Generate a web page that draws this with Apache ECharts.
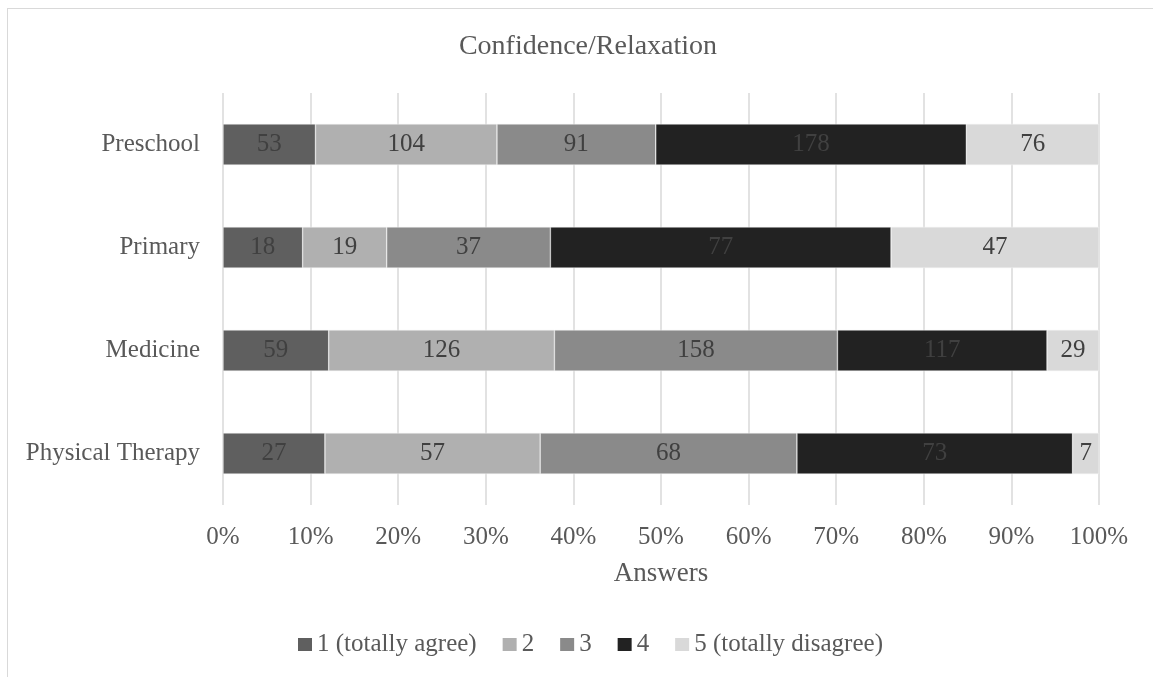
<!DOCTYPE html>
<html>
<head>
<meta charset="utf-8">
<script src="https://cdn.jsdelivr.net/npm/echarts@6/dist/echarts.min.js"></script>
<style>
  html, body { margin: 0; padding: 0; background: #fff; overflow: hidden; }
  #frame { position: absolute; left: 7px; top: 8px; width: 1200px; height: 700px; border: 1.5px solid #d9d9d9; box-sizing: border-box; }
  #chart { position: absolute; left: 0; top: 0; width: 1153px; height: 677px; }
</style>
</head>
<body>
<div id="frame"></div>
<div id="chart"></div>
<script>
// Survey groups (top to bottom)
const categories = ['Preschool', 'Primary', 'Medicine', 'Physical Therapy'];

// Answer counts per rating level, one entry per group
const answers1 = [53, 18, 59, 27];
const answers2 = [104, 19, 126, 57];
const answers3 = [91, 37, 158, 68];
const answers4 = [178, 77, 117, 73];
const answers5 = [76, 47, 29, 7];

const seriesNames = ['1 (totally agree)', '2', '3', '4', '5 (totally disagree)'];
const seriesCounts = [answers1, answers2, answers3, answers4, answers5];
const seriesColors = ['#5f5f5f', '#b0b0b0', '#8a8a8a', '#222222', '#d9d9d9'];

// Row totals used to turn counts into shares of 100%
const totals = categories.map((_, i) => seriesCounts.reduce((s, arr) => s + arr[i], 0));

const FONT = '"Liberation Serif", "DejaVu Serif", serif';

const series = seriesNames.map((name, k) => ({
  name: name,
  type: 'bar',
  stack: 'total',
  barWidth: '40%',
  itemStyle: { color: seriesColors[k], borderColor: '#f2f2f2', borderWidth: 0.5 },
  label: {
    show: true,
    position: 'inside',
    color: '#404040',
    fontFamily: FONT,
    fontSize: 25,
    formatter: p => String(seriesCounts[k][p.dataIndex])
  },
  emphasis: { disabled: true },
  data: seriesCounts[k].map((v, i) => v / totals[i] * 100)
}));

const chart = echarts.init(document.getElementById('chart'), null, { renderer: 'canvas' });
chart.setOption({
  animation: false,
  backgroundColor: 'transparent',
  textStyle: { fontFamily: FONT },
  title: {
    text: 'Confidence/Relaxation',
    left: 583,
    textAlign: 'center',
    top: 28,
    textStyle: { fontFamily: FONT, fontSize: 28, fontWeight: 'normal', color: '#595959' }
  },
  grid: { left: 223, right: 54, top: 93, bottom: 172, containLabel: false },
  xAxis: {
    type: 'value',
    min: 0,
    max: 100,
    interval: 10,
    name: 'Answers',
    nameLocation: 'middle',
    nameGap: 55,
    nameTextStyle: { fontFamily: FONT, fontSize: 27, color: '#595959' },
    axisLine: { show: false },
    axisTick: { show: false },
    axisLabel: { formatter: '{value}%', fontFamily: FONT, fontSize: 25, color: '#595959', margin: 20 },
    splitLine: { show: true, lineStyle: { color: '#d9d9d9', width: 1.5 } }
  },
  yAxis: {
    type: 'category',
    data: categories,
    inverse: true,
    axisLine: { show: false },
    axisTick: { show: false },
    axisLabel: { fontFamily: FONT, fontSize: 25, color: '#595959', margin: 23 }
  },
  legend: {
    top: 627,
    left: 293,
    icon: 'rect',
    itemWidth: 14,
    itemHeight: 13,
    itemGap: 26,
    itemStyle: { borderWidth: 0 },
    textStyle: { fontFamily: FONT, fontSize: 25, color: '#595959' },
    data: seriesNames
  },
  series: series
});
</script>
</body>
</html>
